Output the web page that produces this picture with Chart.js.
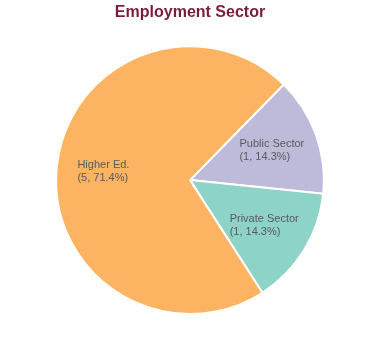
<!DOCTYPE html>
<html>
<head>
<meta charset="utf-8">
<script src="https://cdn.jsdelivr.net/npm/chart.js@4/dist/chart.umd.min.js"></script>
<style>
  html, body { margin: 0; padding: 0; background: #fff; }
  #wrap { width: 380px; height: 360px; }
</style>
</head>
<body>
<div id="wrap"><canvas id="pie"></canvas></div>
<script>
// data
const sectors = ['Public Sector', 'Private Sector', 'Higher Ed.'];
const counts = [1, 1, 5];
const sliceColors = ['#BEBADA', '#8DD3C7', '#FDB462'];

const total = counts.reduce((a, b) => a + b, 0);

// draws "name (n, pct%)" inside each slice, block centred on the slice
const sliceLabels = {
    id: 'sliceLabels',
    afterDatasetsDraw(chart) {
        const ctx = chart.ctx;
        const meta = chart.getDatasetMeta(0);
        ctx.save();
        ctx.font = '11px "Liberation Sans", Arial, sans-serif';
        ctx.fillStyle = '#5a5a5a';
        ctx.textBaseline = 'middle';
        ctx.textAlign = 'left';
        meta.data.forEach((arc, i) => {
            const p = arc.getProps(['x', 'y', 'startAngle', 'endAngle', 'outerRadius'], true);
            const mid = (p.startAngle + p.endAngle) / 2;
            const r = p.outerRadius * 0.65;
            const x = p.x + Math.cos(mid) * r;
            const y = p.y + Math.sin(mid) * r;
            const lines = [sectors[i], '(' + counts[i] + ', ' + (counts[i] / total * 100).toFixed(1) + '%)'];
            const w = Math.max(...lines.map(l => ctx.measureText(l).width));
            ctx.fillText(lines[0], x - w / 2, y - 6.5);
            ctx.fillText(lines[1], x - w / 2, y + 6.5);
        });
        ctx.restore();
    }
};

new Chart(document.getElementById('pie'), {
    type: 'pie',
    data: {
        labels: sectors,
        datasets: [{
            data: counts,
            backgroundColor: sliceColors,
            borderColor: '#ffffff',
            borderWidth: 2
        }]
    },
    options: {
        responsive: true,
        maintainAspectRatio: false,
        animation: false,
        rotation: 44.4,
        layout: { padding: { top: 0, bottom: 45, left: 0, right: 0 } },
        plugins: {
            legend: { display: false },
            tooltip: { enabled: false },
            title: {
                display: true,
                text: 'Employment Sector',
                color: '#7b1c3c',
                font: { family: '"Liberation Sans", Arial, sans-serif', size: 16, weight: 'bold' },
                padding: { top: 3, bottom: 23 }
            }
        }
    },
    plugins: [sliceLabels]
});
</script>
</body>
</html>
